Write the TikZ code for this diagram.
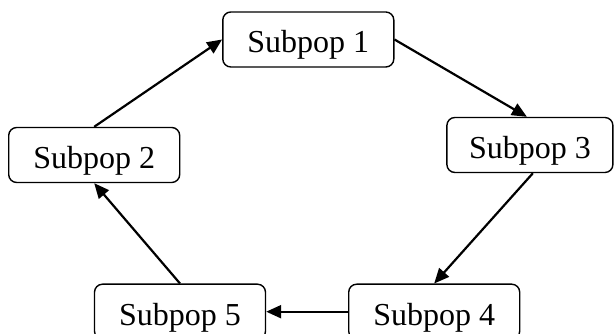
\documentclass[tikz,border=0pt]{standalone}
\usepackage{fontspec}
\setmainfont{Liberation Serif}
\usetikzlibrary{arrows.meta}
\begin{document}
\begin{tikzpicture}[x=1pt,y=1pt,
  popbox/.style={draw, line width=1.4pt, rounded corners=8pt, minimum width=171pt,
    minimum height=55pt, inner xsep=0pt, inner ysep=0pt, text height=41pt, text depth=14pt,
    font=\fontsize{32}{36}\selectfont},
  flow/.style={line width=2.2pt, -{Triangle[length=15pt,width=13pt]}}]
\useasboundingbox (0,0) rectangle (614,334);
\node[popbox] (b1) at (308.3,294.5) {Subpop 1};
\node[popbox] (b2) at (94.2,179) {Subpop 2};
\node[popbox, minimum width=166pt] (b3) at (529.9,189) {Subpop 3};
\node[popbox] (b4) at (434.2,22.3) {Subpop 4};
\node[popbox] (b5) at (180,22.3) {Subpop 5};
\draw[flow] (b1.east) -- ([xshift=-3pt]b3.north);
\draw[flow] ([xshift=3pt]b3.south) -- (b4.north);
\draw[flow] (b4.west) -- (b5.east);
\draw[flow] (b5.north) -- (b2.south);
\draw[flow] (b2.north) -- (b1.west);
\end{tikzpicture}
\end{document}
